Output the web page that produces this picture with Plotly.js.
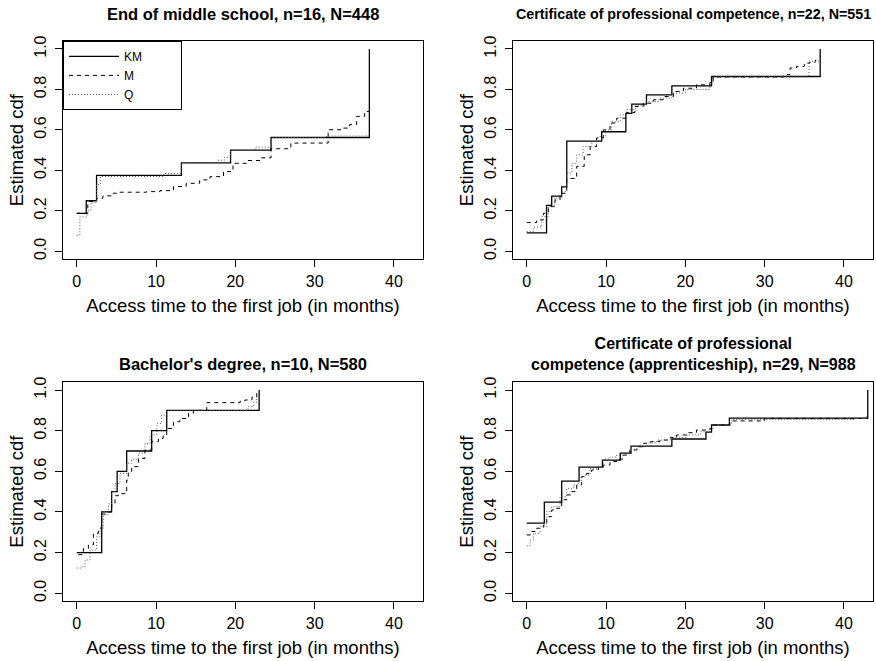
<!DOCTYPE html>
<html>
<head>
<meta charset="utf-8">
<script src="https://cdn.plot.ly/plotly-3.0.1.min.js"></script>
<style>html,body{margin:0;padding:0;background:#fff;}#chart{width:876px;height:661px;}</style>
</head>
<body>
<div id="chart"></div>
<script>
// ---------- data ----------
const panelTitles = [
  "End of middle school, n=16, N=448",
  "Certificate of professional competence, n=22, N=551",
  "Bachelor's degree, n=10, N=580",
  "Certificate of professional<br>competence (apprenticeship), n=29, N=988"
];
const seriesNames = ["KM", "M", "Q"];
const xTickVals = [0, 10, 20, 30, 40];
const yTickVals = [0, 0.2, 0.4, 0.6, 0.8, 1.0];
const yTickText = ["0.0", "0.2", "0.4", "0.6", "0.8", "1.0"];
const xLabel = "Access time to the first job (in months)";
const yLabel = "Estimated cdf";

// Panel 1 : End of middle school
const p1_km_x = [0, 1.2, 2.5, 13.2, 19.4, 24.5, 36.9];
const p1_km_y = [0.1875, 0.25, 0.375, 0.4375, 0.5, 0.5625, 1.0];
const p1_m_x = [0, 1.4, 2.5, 3.3, 4.6, 5.2, 8.8, 10.5, 12.2, 13.8, 15.5, 16.8, 18.5, 19.7, 21.4, 23.1, 24.5, 27.0, 31.7, 33.6, 34.4, 35.3, 36.3, 36.8];
const p1_m_y = [0.188, 0.246, 0.262, 0.274, 0.287, 0.292, 0.295, 0.30, 0.32, 0.336, 0.353, 0.369, 0.394, 0.435, 0.449, 0.462, 0.507, 0.535, 0.601, 0.609, 0.626, 0.667, 0.691, 0.695];
const p1_q_x = [0, 0.4, 1.3, 1.8, 2.5, 3.0, 11.0, 13.2, 17.8, 18.6, 19.4, 22.5, 24.5, 31.5, 36.9];
const p1_q_y = [0.08, 0.17, 0.20, 0.24, 0.33, 0.37, 0.385, 0.4375, 0.45, 0.465, 0.5, 0.515, 0.5625, 0.57, 0.57];

// Panel 2 : Certificate of professional competence
const p2_km_x = [0, 2.5, 3.15, 4.4, 5.05, 9.45, 12.5, 13.25, 15.1, 18.3, 23.3, 37.0];
const p2_km_y = [0.0909, 0.227, 0.273, 0.318, 0.545, 0.591, 0.682, 0.727, 0.773, 0.818, 0.864, 1.0];
const p2_m_x = [0, 1.26, 2.1, 2.73, 3.57, 4.2, 5.04, 6.3, 7.25, 8.0, 8.8, 9.66, 10.5, 11.35, 12.6, 13.65, 14.7, 16.0, 17.2, 18.5, 19.75, 21.4, 23.1, 23.5, 32.4, 33.2, 34.0, 35.0, 35.7, 36.4, 36.9];
const p2_m_y = [0.142, 0.155, 0.188, 0.221, 0.254, 0.287, 0.36, 0.42, 0.477, 0.518, 0.56, 0.60, 0.634, 0.658, 0.686, 0.716, 0.732, 0.749, 0.765, 0.790, 0.806, 0.823, 0.834, 0.862, 0.873, 0.906, 0.914, 0.93, 0.935, 0.945, 0.945];
const p2_q_x = [0, 0.84, 1.9, 2.7, 3.5, 4.4, 5.04, 5.7, 6.3, 7.1, 8.2, 9.0, 9.9, 10.7, 11.8, 12.6, 13.7, 15.0, 16.7, 18.3, 20.0, 23.1, 23.5, 35.6, 36.9];
const p2_q_y = [0.097, 0.12, 0.172, 0.221, 0.262, 0.295, 0.386, 0.435, 0.477, 0.518, 0.543, 0.567, 0.60, 0.64, 0.675, 0.70, 0.72, 0.74, 0.757, 0.782, 0.80, 0.83, 0.862, 0.94, 0.945];

// Panel 3 : Bachelor's degree
const p3_km_x = [0, 3.15, 4.4, 5.1, 6.3, 9.45, 11.35, 23.0];
const p3_km_y = [0.2, 0.4, 0.5, 0.6, 0.7, 0.8, 0.9, 1.0];
const p3_m_x = [0.2, 0.84, 1.47, 2.1, 2.73, 3.15, 3.78, 4.41, 4.83, 5.25, 6.3, 6.5, 6.93, 7.77, 8.61, 9.45, 10.3, 10.9, 11.35, 12.2, 13.0, 14.1, 14.7, 16.4, 20.6, 21.2, 22.1, 22.7, 23.0];
const p3_m_y = [0.19, 0.22, 0.238, 0.295, 0.32, 0.39, 0.40, 0.44, 0.48, 0.49, 0.557, 0.60, 0.623, 0.664, 0.705, 0.746, 0.762, 0.779, 0.811, 0.844, 0.86, 0.885, 0.90, 0.938, 0.945, 0.951, 0.967, 0.984, 0.984];
const p3_q_x = [0, 0.63, 1.05, 1.68, 2.5, 2.94, 3.36, 3.99, 4.41, 4.83, 5.46, 6.3, 6.93, 7.77, 8.61, 9.24, 10.1, 10.7, 11.35, 21.6, 22.3, 22.7, 23.0];
const p3_q_y = [0.124, 0.13, 0.164, 0.213, 0.278, 0.32, 0.386, 0.44, 0.50, 0.54, 0.59, 0.64, 0.66, 0.69, 0.737, 0.779, 0.836, 0.877, 0.90, 0.918, 0.94, 0.967, 0.98];

// Panel 4 : Certificate of professional competence (apprenticeship)
const p4_km_x = [0, 2.22, 4.41, 6.6, 9.54, 11.8, 13.15, 18.3, 22.6, 23.3, 25.55, 43.0];
const p4_km_y = [0.345, 0.448, 0.552, 0.621, 0.655, 0.690, 0.724, 0.759, 0.793, 0.828, 0.862, 1.0];
const p4_m_x = [0, 0.63, 1.26, 2.1, 2.52, 3.15, 3.78, 4.41, 5.04, 5.67, 6.3, 6.93, 7.56, 8.19, 9.03, 9.66, 10.5, 11.35, 12.2, 13.0, 13.9, 14.7, 15.6, 16.8, 18.1, 18.9, 20.2, 21.4, 23.1, 23.5, 25.6, 30.0, 43.0];
const p4_m_y = [0.287, 0.304, 0.32, 0.336, 0.377, 0.41, 0.418, 0.46, 0.484, 0.50, 0.533, 0.574, 0.59, 0.607, 0.62, 0.631, 0.648, 0.66, 0.68, 0.705, 0.721, 0.738, 0.746, 0.754, 0.767, 0.779, 0.79, 0.803, 0.811, 0.828, 0.848, 0.86, 0.86];
const p4_q_x = [0, 0.42, 0.84, 1.68, 2.52, 3.15, 4.2, 5.04, 5.88, 6.51, 6.93, 7.35, 7.98, 9.03, 9.66, 10.5, 11.35, 12.2, 13.0, 13.9, 15.1, 16.4, 18.1, 20.2, 21.9, 23.1, 23.5, 25.8, 41.5, 42.8];
const p4_q_y = [0.233, 0.262, 0.295, 0.328, 0.402, 0.426, 0.475, 0.516, 0.533, 0.541, 0.574, 0.582, 0.615, 0.623, 0.66, 0.67, 0.68, 0.689, 0.709, 0.721, 0.74, 0.754, 0.767, 0.779, 0.795, 0.81, 0.828, 0.855, 0.862, 0.875];

const panels = [
  {km: [p1_km_x, p1_km_y], m: [p1_m_x, p1_m_y], q: [p1_q_x, p1_q_y]},
  {km: [p2_km_x, p2_km_y], m: [p2_m_x, p2_m_y], q: [p2_q_x, p2_q_y]},
  {km: [p3_km_x, p3_km_y], m: [p3_m_x, p3_m_y], q: [p3_q_x, p3_q_y]},
  {km: [p4_km_x, p4_km_y], m: [p4_m_x, p4_m_y], q: [p4_q_x, p4_q_y]}
];

// ---------- styling ----------
const FONT = "Liberation Sans, Arial, Helvetica, sans-serif";
const W = 876, H = 661;
const xDomains = [[63 / W, 423 / W], [513 / W, 873 / W]];
const yDomains = [[1 - 259.4 / H, 1 - 40.9 / H], [1 - 601.4 / H, 1 - 381.9 / H]];
const styles = {
  km: {color: "#000000", width: 1.3, dash: "solid"},
  m:  {color: "#000000", width: 1.0, dash: "4px,4px"},
  q:  {color: "#555555", width: 1.0, dash: "1px,2px"}
};

const traces = [];
panels.forEach((p, i) => {
  const ax = i === 0 ? "" : String(i + 1);
  ["km", "m", "q"].forEach((k, j) => {
    traces.push({
      type: "scatter", mode: "lines",
      x: p[k][0], y: p[k][1],
      xaxis: "x" + ax, yaxis: "y" + ax,
      line: {shape: "hv", color: styles[k].color, width: styles[k].width, dash: styles[k].dash},
      name: seriesNames[j] + "\u00a0".repeat(10),
      showlegend: i === 0,
      hoverinfo: "skip"
    });
  });
});

const layout = {
  width: W, height: H,
  margin: {l: 0, r: 0, t: 0, b: 0},
  paper_bgcolor: "#ffffff", plot_bgcolor: "#ffffff",
  font: {family: FONT, color: "#000000"},
  showlegend: true,
  legend: {
    x: 63 / W, y: 1 - 40.9 / H, xanchor: "left", yanchor: "top",
    bordercolor: "#000000", borderwidth: 1, bgcolor: "#ffffff",
    font: {family: FONT, size: 12, color: "#000000"},
    tracegroupgap: 0, itemwidth: 50
  },
  annotations: [],
  shapes: []
};

const titleCfg = [
  {x: 243 / W, y: 1 - 14 / H, size: 16.5},
  {x: 693 / W, y: 1 - 14 / H, size: 14.3},
  {x: 243 / W, y: 1 - 364 / H, size: 16.5},
  {x: 693 / W, y: 1 - 354 / H, size: 16}
];

for (let i = 0; i < 4; i++) {
  const ax = i === 0 ? "" : String(i + 1);
  const col = i % 2, row = Math.floor(i / 2);
  layout["xaxis" + ax] = {
    domain: xDomains[col], anchor: "y" + ax,
    range: [-1.73, 43.66], autorange: false,
    tickvals: xTickVals, ticktext: xTickVals.map(String),
    ticks: "outside", ticklen: 7, tickcolor: "#000", tickwidth: 1,
    showline: true, mirror: true, linecolor: "#000", linewidth: 1,
    showgrid: false, zeroline: false,
    tickfont: {family: FONT, size: 16, color: "#000"},
    title: {text: xLabel, font: {family: FONT, size: 18.5, color: "#000"}, standoff: 10}
  };
  layout["yaxis" + ax] = {
    domain: yDomains[row], anchor: "x" + ax,
    range: [-0.04, 1.04], autorange: false,
    tickvals: yTickVals, ticktext: yTickText,
    tickangle: -90, ticklabelstandoff: 3,
    ticks: "outside", ticklen: 7, tickcolor: "#000", tickwidth: 1,
    showline: true, mirror: true, linecolor: "#000", linewidth: 1,
    showgrid: false, zeroline: false,
    tickfont: {family: FONT, size: 16, color: "#000"},
    title: {text: yLabel, font: {family: FONT, size: 18.5, color: "#000"}, standoff: 3}
  };
  layout.annotations.push({
    text: "<b>" + panelTitles[i] + "</b>",
    xref: "paper", yref: "paper", x: titleCfg[i].x, y: titleCfg[i].y,
    xanchor: "center", yanchor: "middle", showarrow: false,
    font: {family: FONT, size: titleCfg[i].size, color: "#000"}
  });
}

Plotly.newPlot("chart", traces, layout, {staticPlot: true, displayModeBar: false});
</script>
</body>
</html>
